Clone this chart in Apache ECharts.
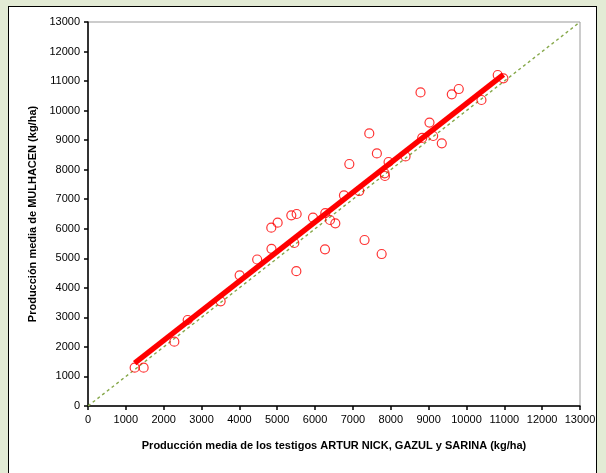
<!DOCTYPE html>
<html><head><meta charset="utf-8">
<script src="https://cdn.jsdelivr.net/npm/echarts@6/dist/echarts.min.js"></script>
<style>
html,body{margin:0;padding:0;background:#e3ebd5;}
#panel{position:absolute;left:8px;top:6px;width:589px;height:480px;background:#fff;border:1px solid #000;box-sizing:border-box;}
#c{position:absolute;left:0;top:0;width:606px;height:473px;}
</style></head>
<body><div id="panel"></div><div id="c"></div>
<script>
const xValues = [1233,1470,2281,2634,3505,4007,4470,4843,5011,4848,5372,5513,5451,5505,5945,6262,6270,6394,6535,6763,6905,7167,7307,7432,7633,7759,7837,7846,7942,8390,8786,8830,9023,9120,9348,9612,9797,10396,10826,10976];
const yValues = [1297,1297,2177,2911,3544,4424,4960,6037,6206,5320,6455,6500,5518,4566,6375,5305,6528,6297,6185,7132,8192,7278,5619,9228,8552,5145,7878,7786,8260,8450,10617,9076,9594,9140,8891,10550,10731,10359,11205,11093];
const fitX = [1233, 10976];
const fitY = [1450, 11220];
const refX = [0, 13000];
const refY = [0, 13000];
const xTitle = 'Producción media de los testigos ARTUR NICK, GAZUL y SARINA (kg/ha)';
const yTitle = 'Producción media de MULHACEN (kg/ha)';

const chart = echarts.init(document.getElementById('c'), null, {renderer:'canvas'});
const font = 'Liberation Sans, Arial, sans-serif';
const axisCommon = {
  type:'value', min:0, max:13000, interval:1000,
  axisLine:{show:true, onZero:false, lineStyle:{color:'#000', width:1.5}},
  axisTick:{show:true, inside:false, length:4, lineStyle:{color:'#000', width:1.5}},
  axisLabel:{color:'#000', fontSize:11, fontFamily:font, formatter:v=>String(v)},
  splitLine:{show:false},
  nameLocation:'middle',
  nameTextStyle:{color:'#000', fontSize:11, fontWeight:'bold', fontFamily:font}
};
chart.setOption({
  animation:false,
  grid:{left:88, right:26, top:22, bottom:67, show:true, borderColor:'#999', borderWidth:1, backgroundColor:'transparent'},
  xAxis:Object.assign({}, axisCommon, {name:xTitle, nameGap:34, axisLabel:Object.assign({}, axisCommon.axisLabel, {margin:8})}),
  yAxis:Object.assign({}, axisCommon, {name:yTitle, nameGap:44, axisLabel:Object.assign({}, axisCommon.axisLabel, {margin:8})}),
  series:[
    {type:'line', data:refX.map((x,i)=>[x,refY[i]]), symbol:'none', lineStyle:{color:'#86a84a', width:1.4, type:[3,3]}, z:1},
    {type:'line', data:fitX.map((x,i)=>[x,fitY[i]]), symbol:'none', lineStyle:{color:'#ff0000', width:5.5}, z:2},
    {type:'scatter', data:xValues.map((x,i)=>[x,yValues[i]]), symbol:'circle', symbolSize:9,
      itemStyle:{color:'transparent', borderColor:'#ff0000', borderWidth:1.2}, z:3}
  ]
});
</script></body></html>
